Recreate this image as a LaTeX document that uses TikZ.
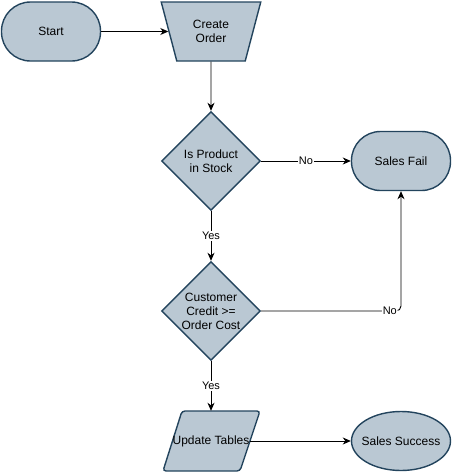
\documentclass[tikz,border=0pt]{standalone}
\usepackage{fontspec}
\setmainfont{Liberation Sans}
\usetikzlibrary{shapes.geometric,arrows.meta}
\definecolor{boxfill}{HTML}{BAC8D3}
\definecolor{boxline}{HTML}{23445D}
\begin{document}
\begin{tikzpicture}[x=1pt,y=-1pt,
  outline/.style={draw=boxline,fill=boxfill,line width=1.4pt},
  base/.style={outline,inner sep=0pt,align=center,font=\fontsize{12}{14}\selectfont},
  caption/.style={align=center,font=\fontsize{12}{14}\selectfont},
  terminal/.style={base,rectangle,rounded corners=29pt,minimum width=99pt,minimum height=59pt},
  finalnode/.style={base,ellipse,minimum width=99pt,minimum height=59pt},
  decision/.style={base,diamond,minimum width=99pt,minimum height=99pt},
  manualop/.style={base,trapezium,trapezium stretches=true,shape border rotate=180,
    trapezium angle=70,minimum width=100pt,minimum height=59pt},
  flow/.style={draw=black,line width=0.9pt,-{Stealth[length=8pt,width=7pt,inset=2.5pt]}},
  tag/.style={fill=white,inner sep=1pt,font=\fontsize{11}{13}\selectfont}]
\useasboundingbox (0,0) rectangle (452,472);

% data step outline (parallelogram), drawn first so its node sits on top
\draw[outline,rounded corners=3pt]
  (182,411) -- (260,411) -- (240,471) -- (163,471) -- cycle;

% process steps
\node[terminal] (start) at (51,31.5) {Start};
\node[manualop] (create) at (211,31.5) {Create\\Order};
\node[decision,label={[caption]center:Is Product\\in Stock}] (stock) at (211,161) {};
\node[terminal] (fail) at (401,161) {Sales Fail};
\node[decision,label={[caption]center:Customer\\Credit >=\\Order Cost}] (credit) at (211,311) {};
\node[caption,minimum width=78pt,minimum height=60pt,inner sep=0pt] (update) at (211,441) {Update Tables};
\node[finalnode,label={[caption]center:Sales Success}] (success) at (401,441) {};

% connectors
\draw[flow] (start) -- (create);
\draw[flow] (create) -- (stock);
\draw[flow] (stock) -- node[tag] {No} (fail);
\draw[flow] (stock) -- node[tag] {Yes} (credit);
\draw[flow,rounded corners=5pt] (credit.east) -| node[tag,pos=0.46] {No} (fail.south);
\draw[flow] (credit) -- node[tag] {Yes} (update);
\draw[flow] (update) -- (success);
\end{tikzpicture}
\end{document}
